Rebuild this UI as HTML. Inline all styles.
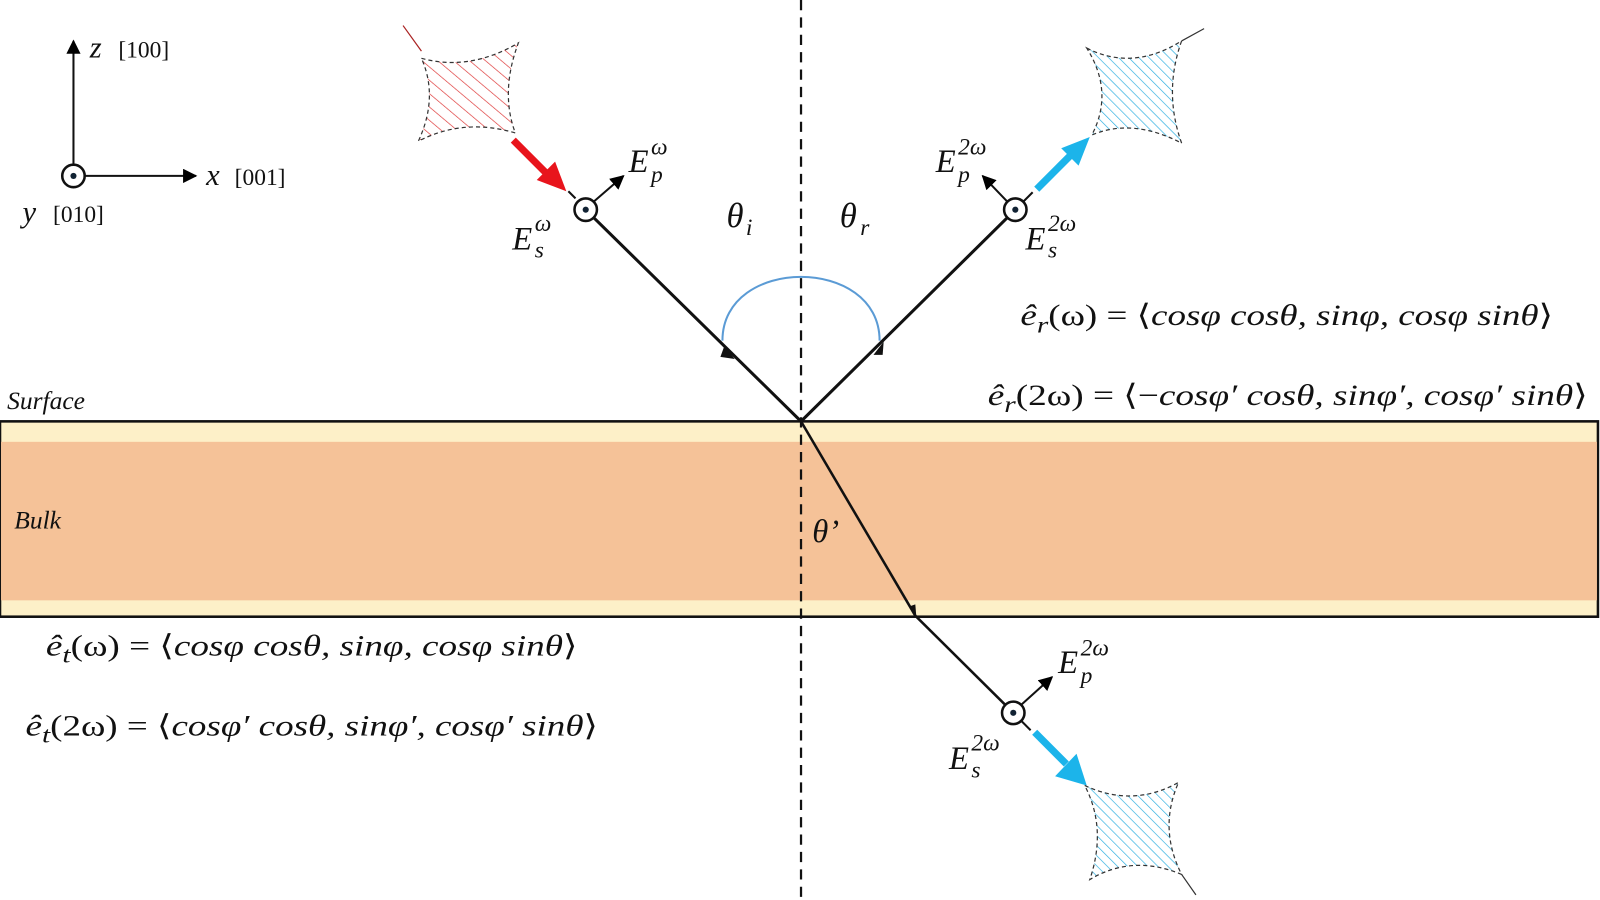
<!DOCTYPE html>
<html><head><meta charset="utf-8"><style>
html,body{margin:0;padding:0;background:#fff}
svg{display:block}
text{font-family:"Liberation Serif",serif;fill:#111}
.m{font-style:italic;font-size:32px}
.s{font-style:italic;font-size:23px}
</style></head><body>
<svg width="1600" height="900" viewBox="0 0 1568 880" preserveAspectRatio="none" xmlns="http://www.w3.org/2000/svg">
<defs>
<marker id="ah" viewBox="0 0 10 10" refX="9" refY="5" markerWidth="7" markerHeight="7" orient="auto"><path d="M0,0 L10,5 L0,10 z" fill="#000"/></marker>
<pattern id="hr" width="10" height="10" patternUnits="userSpaceOnUse" patternTransform="rotate(-50)"><line x1="0" y1="0" x2="0" y2="10" stroke="#d33" stroke-width="1.3"/></pattern>
<pattern id="hb" width="7" height="7" patternUnits="userSpaceOnUse" patternTransform="rotate(-45)"><line x1="0" y1="0" x2="0" y2="7" stroke="#29aee0" stroke-width="1.3"/></pattern>
</defs>

<rect x="0" y="412" width="1566" height="191" fill="#fdf0c8" stroke="#111" stroke-width="2.5"/>
<rect x="1" y="432" width="1564" height="155" fill="#f5c298"/>

<line x1="785" y1="0" x2="785" y2="880" stroke="#111" stroke-width="2.2" stroke-dasharray="10,7"/>

<path d="M708,333 C708,250 862,250 862,333" fill="none" stroke="#5b9bd5" stroke-width="2"/>

<line x1="582" y1="213" x2="785" y2="412" stroke="#111" stroke-width="3"/>
<line x1="785" y1="412" x2="987" y2="213" stroke="#111" stroke-width="3"/>
<line x1="785" y1="412" x2="897" y2="602" stroke="#111" stroke-width="2.5"/>
<line x1="897" y1="602" x2="985" y2="689" stroke="#111" stroke-width="2.5"/>
<path d="M710,338 l10,13 l-14,-2 z" fill="#111"/>
<path d="M856,347 l10,-13 l-1,13 z" fill="#111"/>
<path d="M891,593 l7,10 l-1,-12 z" fill="#111"/>

<g fill="#fff" stroke="#111" stroke-width="2.5">
<circle cx="574" cy="205" r="11"/><circle cx="995" cy="205" r="11"/><circle cx="993" cy="697" r="11"/><circle cx="72" cy="172" r="11"/>
</g>
<g fill="#123"><circle cx="574" cy="205" r="3"/><circle cx="995" cy="205" r="3"/><circle cx="993" cy="697" r="3"/><circle cx="72" cy="172" r="3"/></g>
<g stroke="#111" stroke-width="2" marker-end="url(#ah)">
<line x1="582" y1="197" x2="611" y2="172"/>
<line x1="987" y1="197" x2="963" y2="172"/>
<line x1="1001" y1="689" x2="1031" y2="662"/>
<line x1="72" y1="161" x2="72" y2="40"/>
<line x1="83" y1="172" x2="192" y2="172"/>
</g>
<line x1="564" y1="194" x2="557" y2="187" stroke="#111" stroke-width="2"/>
<line x1="1003" y1="197" x2="1012" y2="188" stroke="#111" stroke-width="2"/>
<line x1="1001" y1="705" x2="1010" y2="714" stroke="#111" stroke-width="2"/>

<line x1="503" y1="137" x2="536" y2="170" stroke="#e8141c" stroke-width="7"/>
<path d="M526,176 L555,187 L544,158 z" fill="#e8141c"/>
<line x1="1016" y1="185" x2="1050" y2="151" stroke="#1cb4ea" stroke-width="7"/>
<path d="M1040,145 L1068,134 L1057,162 z" fill="#1cb4ea"/>
<line x1="1014" y1="716" x2="1045" y2="747" stroke="#1cb4ea" stroke-width="7"/>
<path d="M1055,737 L1065,768 L1034,759 z" fill="#1cb4ea"/>

<path d="M413,57 Q460,70 508,42 Q490,90 505,130 Q455,115 410,138 Q430,95 413,57 z" fill="url(#hr)" stroke="#333" stroke-width="1.2" stroke-dasharray="4,3"/>
<line x1="395" y1="25" x2="413" y2="50" stroke="#a22" stroke-width="1.2"/>
<path d="M1065,47 Q1110,70 1158,40 Q1140,90 1158,140 Q1110,115 1070,132 Q1092,90 1065,47 z" fill="url(#hb)" stroke="#333" stroke-width="1.2" stroke-dasharray="4,3"/>
<line x1="1158" y1="40" x2="1180" y2="28" stroke="#333" stroke-width="1.2"/>
<path d="M1063,768 Q1110,790 1155,765 Q1135,810 1158,855 Q1110,835 1068,860 Q1085,810 1063,768 z" fill="url(#hb)" stroke="#333" stroke-width="1.2" stroke-dasharray="4,3"/>
<line x1="1158" y1="855" x2="1172" y2="875" stroke="#333" stroke-width="1.2"/>

<text x="88" y="56" class="m" style="font-size:30px">z</text><text x="116" y="56" style="font-size:23px">[100]</text>
<text x="202" y="181" class="m" style="font-size:30px">x</text><text x="230" y="181" style="font-size:23px">[001]</text>
<text x="22" y="217" class="m" style="font-size:30px">y</text><text x="52" y="217" style="font-size:23px">[010]</text>

<text x="616" y="168" class="m">E</text><text x="638" y="178" class="s">p</text><text x="638" y="151" class="s">ω</text>
<text x="502" y="244" class="m">E</text><text x="524" y="252" class="s">s</text><text x="524" y="226" class="s">ω</text>
<text x="917" y="168" class="m">E</text><text x="939" y="178" class="s">p</text><text x="939" y="151" class="s">2ω</text>
<text x="1005" y="244" class="m">E</text><text x="1027" y="252" class="s">s</text><text x="1027" y="226" class="s">2ω</text>
<text x="1037" y="658" class="m">E</text><text x="1059" y="668" class="s">p</text><text x="1059" y="641" class="s">2ω</text>
<text x="930" y="752" class="m">E</text><text x="952" y="760" class="s">s</text><text x="952" y="734" class="s">2ω</text>

<text x="712" y="222" class="m" style="font-size:34px">θ</text><text x="731" y="230" class="s">i</text>
<text x="823" y="222" class="m" style="font-size:34px">θ</text><text x="843" y="230" class="s">r</text>
<text x="796" y="530" class="m" style="font-size:32px">θ’</text>

<text x="7" y="400" class="m" style="font-size:25px">Surface</text>
<text x="14" y="517" class="m" style="font-size:25px">Bulk</text>

<text x="1000" y="318" class="m" style="font-size:29px" textLength="522" lengthAdjust="spacingAndGlyphs">ê<tspan class="s" dy="7">r</tspan><tspan dy="-7" style="font-style:normal">(ω) = ⟨</tspan>cosφ cosθ, sinφ, cosφ sinθ<tspan style="font-style:normal">⟩</tspan></text>
<text x="968" y="396" class="m" style="font-size:29px" textLength="588" lengthAdjust="spacingAndGlyphs">ê<tspan class="s" dy="7">r</tspan><tspan dy="-7" style="font-style:normal">(2ω) = ⟨−</tspan>cosφ′ cosθ, sinφ′, cosφ′ sinθ<tspan style="font-style:normal">⟩</tspan></text>
<text x="45" y="641" class="m" style="font-size:29px" textLength="521" lengthAdjust="spacingAndGlyphs">ê<tspan class="s" dy="7">t</tspan><tspan dy="-7" style="font-style:normal">(ω) = ⟨</tspan>cosφ cosθ, sinφ, cosφ sinθ<tspan style="font-style:normal">⟩</tspan></text>
<text x="25" y="719" class="m" style="font-size:29px" textLength="561" lengthAdjust="spacingAndGlyphs">ê<tspan class="s" dy="7">t</tspan><tspan dy="-7" style="font-style:normal">(2ω) = ⟨</tspan>cosφ′ cosθ, sinφ′, cosφ′ sinθ<tspan style="font-style:normal">⟩</tspan></text>
</svg>
</body></html>
